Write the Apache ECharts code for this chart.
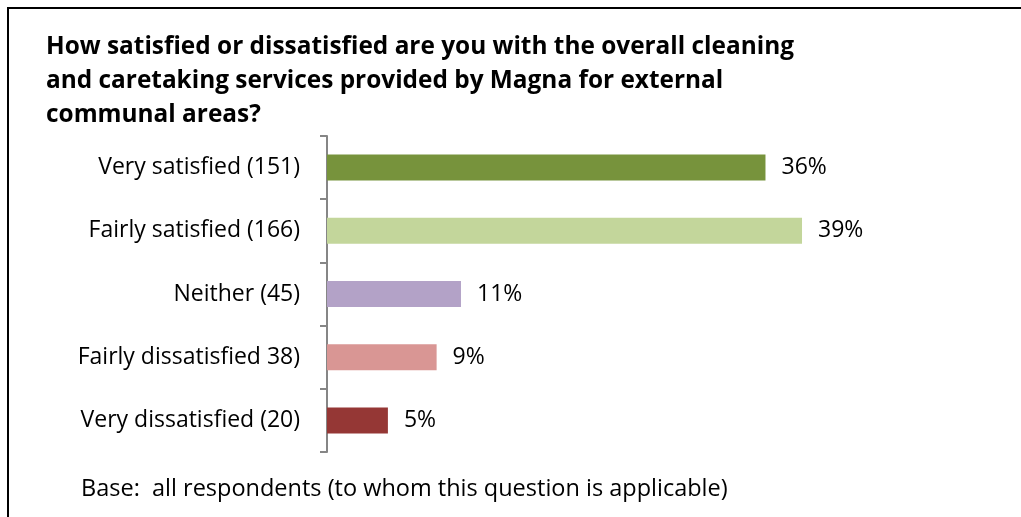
<!DOCTYPE html>
<html>
<head>
<meta charset="utf-8">
<script src="https://cdn.jsdelivr.net/npm/echarts@6/dist/echarts.min.js"></script>
<style>
  html, body { margin: 0; padding: 0; background: #fff; }
  #chart { width: 1021px; height: 517px; }
</style>
</head>
<body>
<div id="chart"></div>
<script>
// Survey responses: satisfaction with cleaning and caretaking of external communal areas
const categories = [
  'Very satisfied (151)',
  'Fairly satisfied (166)',
  'Neither (45)',
  'Fairly dissatisfied 38)',
  'Very dissatisfied (20)'
];
const percentages = [36, 39, 11, 9, 5];
const barColors = ['#77933C', '#C3D69B', '#B3A2C7', '#D99694', '#953735'];

const titleText = 'How satisfied or dissatisfied are you with the overall cleaning\nand caretaking services provided by Magna for external\ncommunal areas?';
const footnote = 'Base:  all respondents (to whom this question is applicable)';

const fontFamily = '"Open Sans", sans-serif';

const chart = echarts.init(document.getElementById('chart'));
chart.setOption({
  animation: false,
  backgroundColor: '#fff',
  title: {
    text: titleText,
    left: 41,
    top: 25,
    textStyle: {
      fontFamily: fontFamily,
      fontWeight: 'bold',
      fontSize: 24.4,
      lineHeight: 34,
      color: '#000'
    }
  },
  graphic: [
    {
      type: 'rect',
      shape: { x: 8, y: 8, width: 1100, height: 600 },
      style: { fill: 'none', stroke: '#000', lineWidth: 2 },
      silent: true
    },
    {
      type: 'text',
      left: 81,
      top: 477,
      style: {
        text: footnote,
        font: '23.5px ' + fontFamily,
        fill: '#000'
      }
    }
  ],
  grid: {
    left: 327,
    right: 85,
    top: 136,
    bottom: 65,
    containLabel: false
  },
  xAxis: {
    type: 'value',
    min: 0,
    max: 50,
    show: false
  },
  yAxis: {
    type: 'category',
    data: categories,
    inverse: true,
    axisLine: { show: true, lineStyle: { color: '#868686', width: 2 } },
    axisTick: { show: true, length: 7, lineStyle: { color: '#868686', width: 2 } },
    axisLabel: {
      margin: 27,
      fontFamily: fontFamily,
      fontSize: 23,
      padding: [4, 0, 0, 0],
      color: '#000'
    },
    splitLine: { show: false }
  },
  series: [{
    type: 'bar',
    data: percentages.map((v, i) => ({ value: v, itemStyle: { color: barColors[i] } })),
    barWidth: 26,
    label: {
      show: true,
      position: 'right',
      distance: 16,
      padding: [4, 0, 0, 0],
      formatter: p => p.value + '%',
      fontFamily: fontFamily,
      fontSize: 23,
      color: '#000'
    }
  }]
});
</script>
</body>
</html>
